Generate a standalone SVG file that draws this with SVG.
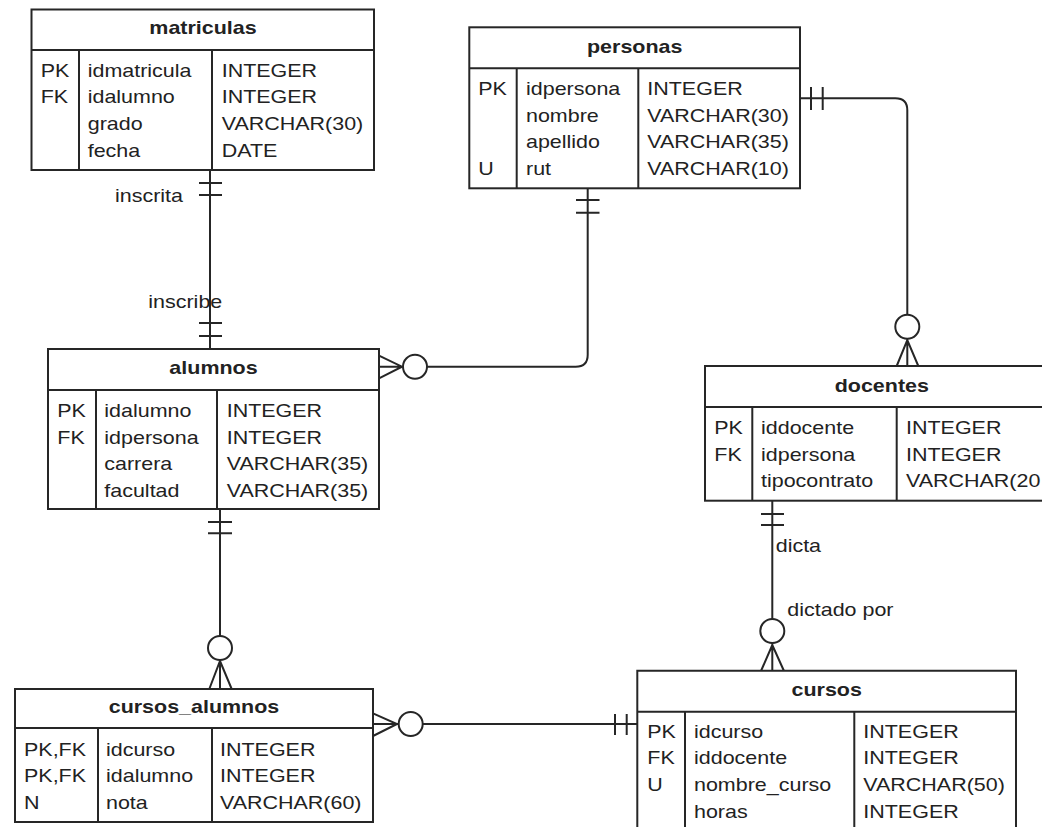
<svg xmlns="http://www.w3.org/2000/svg" width="1042" height="827" viewBox="0 0 1042 827">
<style>
.t{font-family:"Liberation Sans",Arial,sans-serif;font-size:19px;fill:#222}
.h{font-weight:bold;text-anchor:middle}
.ln{fill:none;stroke:#262626;stroke-width:2}
.box{fill:#fff;stroke:#262626;stroke-width:2}
.c{fill:#fff;stroke:#262626;stroke-width:2}
</style>
<rect width="1042" height="827" fill="#fff"/>
<g id="connectors">
  <g id="c-matriculas-alumnos">
    <path class="ln" d="M210,170 V349 M199,183 H222 M199,195 H222 M199,323 H222 M199,336 H222"/>
    <text class="t" transform="translate(115,202.3) scale(1.13,1)">inscrita</text>
    <text class="t" transform="translate(148.3,308.3) scale(1.13,1)">inscribe</text>
  </g>
  <g id="c-personas-alumnos">
    <path class="ln" d="M587.7,188.3 V354.7 Q587.7,366.7 575.7,366.7 H427 M576,200 H599.5 M576,212.7 H599.5 M379,355.7 L402,366.7 L379,378.3 M379,366.7 H403"/>
    <circle class="c" cx="415" cy="366.7" r="12"/>
  </g>
  <g id="c-personas-docentes">
    <path class="ln" d="M800,98.3 H895.3 Q907.3,98.3 907.3,110.3 V314.7 M811,87 V110 M822.7,87 V110 M896.7,366 L907.3,340 L918.3,366 M907.3,338.7 V366"/>
    <circle class="c" cx="907.3" cy="326.7" r="12"/>
  </g>
  <g id="c-alumnos-cursos_alumnos">
    <path class="ln" d="M220,509 V636 M208,522 H232 M208,533.3 H232 M209.3,689 L220,661 L231.7,689 M220,660 V689"/>
    <circle class="c" cx="220" cy="648" r="12"/>
  </g>
  <g id="c-cursos_alumnos-cursos">
    <path class="ln" d="M422.7,724 H637.3 M615,714 V735 M626.7,714 V735 M373,713.3 L397,724 L373,736 M373,724 H398.7"/>
    <circle class="c" cx="410.7" cy="724" r="12"/>
  </g>
  <g id="c-docentes-cursos">
    <path class="ln" d="M772.3,500.7 V619 M761,514 H784 M761,525 H784 M761,671 L772.3,645 L784,671 M772.3,643 V671"/>
    <circle class="c" cx="772.3" cy="631" r="12"/>
    <text class="t" transform="translate(775.7,551.7) scale(1.13,1)">dicta</text>
    <text class="t" transform="translate(787.3,616) scale(1.13,1)">dictado por</text>
  </g>
</g>
<g id="matriculas">
  <rect class="box" x="31.5" y="9.5" width="342.5" height="160.5"/>
  <path class="ln" d="M31.5,50 H374 M79,50 V170 M212,50 V170"/>
  <text class="t h" transform="translate(203,34.3) scale(1.13,1)">matriculas</text>
  <text class="t" transform="translate(40.7,76.7) scale(1.13,1)">PK</text>
  <text class="t" transform="translate(40.7,103.3) scale(1.13,1)">FK</text>
  <text class="t" transform="translate(87.7,76.7) scale(1.13,1)">idmatricula</text>
  <text class="t" transform="translate(87.7,103.3) scale(1.13,1)">idalumno</text>
  <text class="t" transform="translate(87.7,130) scale(1.13,1)">grado</text>
  <text class="t" transform="translate(87.7,156.7) scale(1.13,1)">fecha</text>
  <text class="t" transform="translate(221.7,76.7) scale(1.13,1)">INTEGER</text>
  <text class="t" transform="translate(221.7,103.3) scale(1.13,1)">INTEGER</text>
  <text class="t" transform="translate(221.7,130) scale(1.13,1)">VARCHAR(30)</text>
  <text class="t" transform="translate(221.7,156.7) scale(1.13,1)">DATE</text>
</g>
<g id="personas">
  <rect class="box" x="469.3" y="27.3" width="330.7" height="161"/>
  <path class="ln" d="M469.3,68.3 H800 M516.7,68.3 V188.3 M638.3,68.3 V188.3"/>
  <text class="t h" transform="translate(634.7,53.3) scale(1.13,1)">personas</text>
  <text class="t" transform="translate(478.3,95) scale(1.13,1)">PK</text>
  <text class="t" transform="translate(478.3,175) scale(1.13,1)">U</text>
  <text class="t" transform="translate(526,95) scale(1.13,1)">idpersona</text>
  <text class="t" transform="translate(526,121.7) scale(1.13,1)">nombre</text>
  <text class="t" transform="translate(526,148.3) scale(1.13,1)">apellido</text>
  <text class="t" transform="translate(526,175) scale(1.13,1)">rut</text>
  <text class="t" transform="translate(647.3,95) scale(1.13,1)">INTEGER</text>
  <text class="t" transform="translate(647.3,121.7) scale(1.13,1)">VARCHAR(30)</text>
  <text class="t" transform="translate(647.3,148.3) scale(1.13,1)">VARCHAR(35)</text>
  <text class="t" transform="translate(647.3,175) scale(1.13,1)">VARCHAR(10)</text>
</g>
<g id="alumnos">
  <rect class="box" x="48" y="349" width="331" height="160"/>
  <path class="ln" d="M48,390 H379 M96,390 V509 M217,390 V509"/>
  <text class="t h" transform="translate(213.5,374) scale(1.13,1)">alumnos</text>
  <text class="t" transform="translate(57.3,417) scale(1.13,1)">PK</text>
  <text class="t" transform="translate(57.3,443.7) scale(1.13,1)">FK</text>
  <text class="t" transform="translate(104.3,417) scale(1.13,1)">idalumno</text>
  <text class="t" transform="translate(104.3,443.7) scale(1.13,1)">idpersona</text>
  <text class="t" transform="translate(104.3,470.3) scale(1.13,1)">carrera</text>
  <text class="t" transform="translate(104.3,497) scale(1.13,1)">facultad</text>
  <text class="t" transform="translate(226.7,417) scale(1.13,1)">INTEGER</text>
  <text class="t" transform="translate(226.7,443.7) scale(1.13,1)">INTEGER</text>
  <text class="t" transform="translate(226.7,470.3) scale(1.13,1)">VARCHAR(35)</text>
  <text class="t" transform="translate(226.7,497) scale(1.13,1)">VARCHAR(35)</text>
</g>
<g id="docentes">
  <rect class="box" x="705" y="366" width="345" height="134.7"/>
  <path class="ln" d="M705,407 H1050 M752.3,407 V500.7 M896.7,407 V500.7"/>
  <text class="t h" transform="translate(881.8,392) scale(1.13,1)">docentes</text>
  <text class="t" transform="translate(714.3,434) scale(1.13,1)">PK</text>
  <text class="t" transform="translate(714.3,460.7) scale(1.13,1)">FK</text>
  <text class="t" transform="translate(761,434) scale(1.13,1)">iddocente</text>
  <text class="t" transform="translate(761,460.7) scale(1.13,1)">idpersona</text>
  <text class="t" transform="translate(761,487.3) scale(1.13,1)">tipocontrato</text>
  <text class="t" transform="translate(906,434) scale(1.13,1)">INTEGER</text>
  <text class="t" transform="translate(906,460.7) scale(1.13,1)">INTEGER</text>
  <text class="t" transform="translate(906,487.3) scale(1.13,1)">VARCHAR(20</text>
</g>
<g id="cursos_alumnos">
  <rect class="box" x="15" y="689" width="358" height="133"/>
  <path class="ln" d="M15,728 H373 M98,728 V822 M212,728 V822"/>
  <text class="t h" transform="translate(194,713) scale(1.13,1)">cursos_alumnos</text>
  <text class="t" transform="translate(24,755.7) scale(1.13,1)">PK,FK</text>
  <text class="t" transform="translate(24,782.3) scale(1.13,1)">PK,FK</text>
  <text class="t" transform="translate(24,809) scale(1.13,1)">N</text>
  <text class="t" transform="translate(106,755.7) scale(1.13,1)">idcurso</text>
  <text class="t" transform="translate(106,782.3) scale(1.13,1)">idalumno</text>
  <text class="t" transform="translate(106,809) scale(1.13,1)">nota</text>
  <text class="t" transform="translate(220,755.7) scale(1.13,1)">INTEGER</text>
  <text class="t" transform="translate(220,782.3) scale(1.13,1)">INTEGER</text>
  <text class="t" transform="translate(220,809) scale(1.13,1)">VARCHAR(60)</text>
</g>
<g id="cursos">
  <path class="box" d="M637.3,835 V670.7 H1016 V835"/>
  <path class="ln" d="M637.3,711.7 H1016 M685,711.7 V835 M854.3,711.7 V835"/>
  <text class="t h" transform="translate(826.7,695.7) scale(1.13,1)">cursos</text>
  <text class="t" transform="translate(647.3,737.7) scale(1.13,1)">PK</text>
  <text class="t" transform="translate(647.3,764.3) scale(1.13,1)">FK</text>
  <text class="t" transform="translate(647.3,791) scale(1.13,1)">U</text>
  <text class="t" transform="translate(694,737.7) scale(1.13,1)">idcurso</text>
  <text class="t" transform="translate(694,764.3) scale(1.13,1)">iddocente</text>
  <text class="t" transform="translate(694,791) scale(1.13,1)">nombre_curso</text>
  <text class="t" transform="translate(694,817.7) scale(1.13,1)">horas</text>
  <text class="t" transform="translate(863.3,737.7) scale(1.13,1)">INTEGER</text>
  <text class="t" transform="translate(863.3,764.3) scale(1.13,1)">INTEGER</text>
  <text class="t" transform="translate(863.3,791) scale(1.13,1)">VARCHAR(50)</text>
  <text class="t" transform="translate(863.3,817.7) scale(1.13,1)">INTEGER</text>
</g>
</svg>
